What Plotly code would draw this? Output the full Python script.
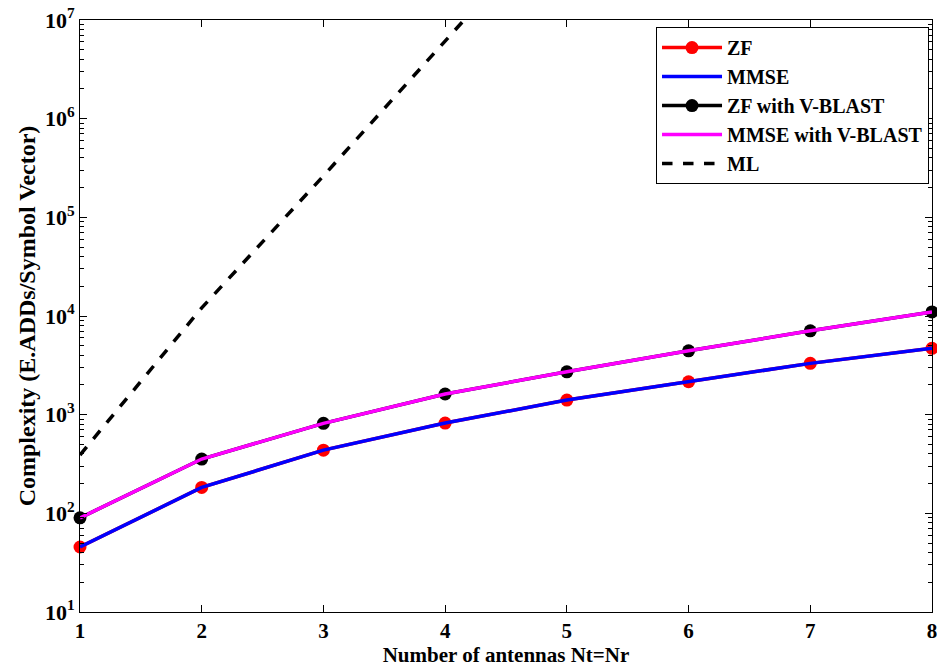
import plotly.graph_objects as go

antennas = [1, 2, 3, 4, 5, 6, 7, 8]
zf = [45.6, 183, 437, 822, 1406, 2155, 3311, 4700]
mmse = [45.6, 183, 437, 822, 1406, 2155, 3311, 4700]
zf_vblast = [90, 355, 817, 1620, 2720, 4436, 7080, 11000]
mmse_vblast = [90, 355, 817, 1620, 2720, 4436, 7080, 11000]
ml = [390, 12100, 263000, 6.3e6, 1.5e8, 3.5e9, 8e10, 1.8e12]
y_exponents = [1, 2, 3, 4, 5, 6, 7]

font_family = "Liberation Serif"

fig = go.Figure()
fig.add_trace(go.Scatter(x=antennas, y=zf, name="<b>ZF</b>", mode="lines+markers",
                         line=dict(color="#ff0000", width=3.5),
                         marker=dict(color="#ff0000", size=13), cliponaxis=False))
fig.add_trace(go.Scatter(x=antennas, y=mmse, name="<b>MMSE</b>", mode="lines",
                         line=dict(color="#0000ff", width=3.5)))
fig.add_trace(go.Scatter(x=antennas, y=zf_vblast, name="<b>ZF with V-BLAST</b>", mode="lines+markers",
                         line=dict(color="#000000", width=3.5),
                         marker=dict(color="#000000", size=13), cliponaxis=False))
fig.add_trace(go.Scatter(x=antennas, y=mmse_vblast, name="<b>MMSE with V-BLAST</b>", mode="lines",
                         line=dict(color="#ff00ff", width=3.5)))
fig.add_trace(go.Scatter(x=antennas, y=ml, name="<b>ML</b>", mode="lines",
                         line=dict(color="#000000", width=3.5, dash="dash")))

major_vals = [10 ** e for e in y_exponents]
major_text = [f"<b>10<sup>{e}</sup></b>" for e in y_exponents]
minor_vals = [m * 10 ** e for e in y_exponents[:-1] for m in range(2, 10)]

fig.update_layout(
    width=937, height=667,
    margin=dict(l=80, r=5, t=20, b=55, autoexpand=False),
    paper_bgcolor="white", plot_bgcolor="white",
    font=dict(family=font_family, color="black", size=16),
    legend=dict(x=0.9965, y=0.988, xanchor="right", yanchor="top",
                bordercolor="black", borderwidth=1, bgcolor="white",
                font=dict(family=font_family, size=20, color="black"),
                tracegroupgap=0, itemwidth=60),
    showlegend=True,
)
fig.update_xaxes(
    range=[1, 8], dtick=1, tick0=1,
    showline=True, linecolor="black", linewidth=1, mirror="ticks",
    ticks="inside", ticklen=7, tickcolor="black",
    showgrid=False, zeroline=False, automargin=False,
    ticklabeloverflow="allow",
    tickprefix="<b>", ticksuffix="</b>",
    tickfont=dict(family=font_family, size=21, color="black"),
    title=dict(text="<b>Number of antennas Nt=Nr</b>",
               font=dict(family=font_family, size=21, color="black"), standoff=2),
)
fig.update_yaxes(
    type="log", range=[1, 7],
    tickmode="array", tickvals=major_vals, ticktext=major_text,
    showline=True, linecolor="black", linewidth=1, mirror="ticks",
    ticks="inside", ticklen=7, tickcolor="black",
    minor=dict(tickmode="array", tickvals=minor_vals, ticks="inside", ticklen=4,
               tickcolor="black", showgrid=False),
    showgrid=False, zeroline=False, automargin=False,
    ticklabeloverflow="allow",
    tickfont=dict(family=font_family, size=22, color="black"),
    title=dict(text="<b>Complexity (E.ADDs/Symbol Vector)</b>",
               font=dict(family=font_family, size=24, color="black"), standoff=2),
)

fig.write_html("out.html")
